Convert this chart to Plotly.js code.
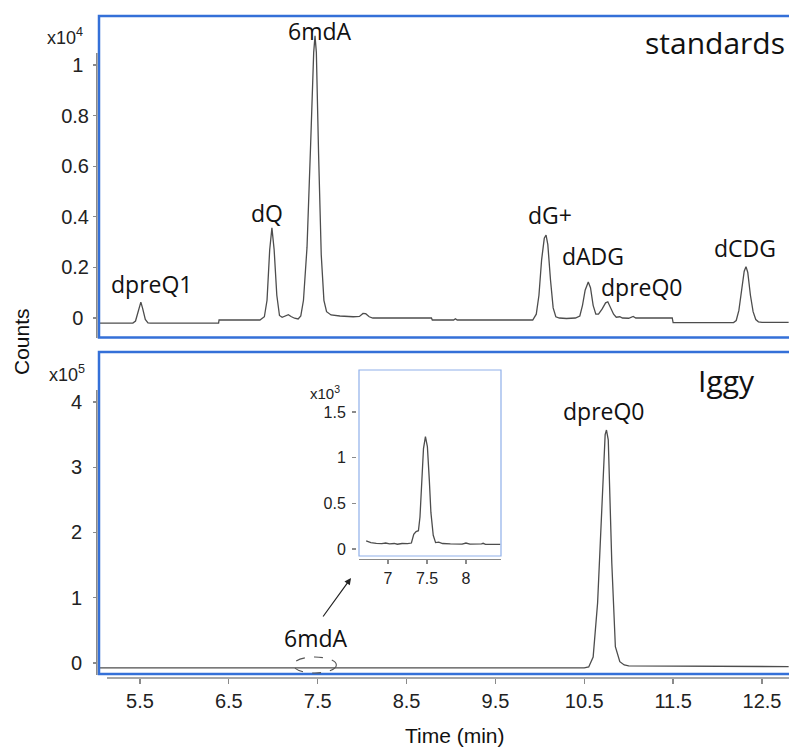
<!DOCTYPE html>
<html>
<head>
<meta charset="utf-8">
<script src="https://cdn.plot.ly/plotly-3.0.1.min.js"></script>
<style>html,body{margin:0;padding:0;background:#fff;overflow:hidden}</style>
</head>
<body>
<div id="chart" style="width:789px;height:747px"></div>
<script>
// ---- standards chromatogram (Counts) ----
const stdTime = [5.04,5.42,5.45,5.48,5.51,5.53,5.56,5.59,5.62,6.385,6.39,6.85,6.90,6.93,6.96,6.985,7.01,7.04,7.07,7.10,7.14,7.17,7.20,7.24,7.28,7.31,7.34,7.38,7.42,7.455,7.47,7.485,7.51,7.54,7.57,7.60,7.65,7.75,7.90,7.97,8.01,8.04,8.08,8.12,8.78,8.79,9.03,9.05,9.07,9.92,9.96,9.99,10.02,10.05,10.07,10.09,10.12,10.15,10.18,10.22,10.30,10.40,10.45,10.48,10.51,10.545,10.57,10.60,10.63,10.66,10.70,10.74,10.765,10.79,10.83,10.86,10.90,10.93,11.00,11.05,11.08,11.49,11.50,12.18,12.21,12.24,12.27,12.30,12.32,12.34,12.37,12.40,12.43,12.46,12.50,12.80];
const stdCounts = [-200,-200,-120,250,630,380,-60,-190,-200,-200,-80,-80,50,700,2700,3560,2700,900,100,30,90,130,60,-10,-40,80,700,2800,6800,10500,11150,10500,6500,2500,700,250,120,80,50,60,180,170,50,0,0,-80,-80,-30,-80,-80,150,900,2300,3150,3280,2900,1500,400,50,0,-20,0,80,500,1100,1420,1200,500,150,150,350,600,640,450,150,30,50,0,-10,60,0,0,-180,-180,-100,300,1100,1850,2030,1800,900,250,-60,-150,-170,-170];

// ---- Iggy chromatogram (Counts) ----
const iggyTime = [5.04,7.40,7.45,7.50,7.55,7.60,10.50,10.55,10.60,10.65,10.70,10.735,10.75,10.77,10.81,10.85,10.90,10.95,11.00,11.40,11.42,12.80];
const iggyCounts = [-7600,-7600,-7100,-6600,-7300,-7600,-7600,-6000,9000,92000,255000,350000,357000,342000,153000,25000,2000,-3000,-4500,-4500,-5500,-5500];

// ---- inset: Iggy 6mdA region (Counts) ----
const insetTime = [6.72,6.78,6.85,6.92,6.97,7.02,7.08,7.12,7.18,7.25,7.30,7.33,7.36,7.39,7.41,7.43,7.455,7.48,7.505,7.53,7.55,7.58,7.61,7.65,7.70,7.80,7.95,8.00,8.05,8.20,8.22,8.25,8.44];
const insetCounts = [88,70,62,58,65,55,60,52,60,58,65,160,190,200,350,700,1100,1230,1120,750,400,150,70,75,60,55,52,65,52,55,62,50,50];

// ---- tick labels ----
const xTicks = [5.5,6.5,7.5,8.5,9.5,10.5,11.5,12.5];
const xTickText = ['5.5','6.5','7.5','8.5','9.5','10.5','11.5','12.5'];
const stdYTicks = [0,2000,4000,6000,8000,10000];
const stdYText = ['0\u00a0','0.2','0.4','0.6','0.8','1\u00a0'];
const iggyYTicks = [0,100000,200000,300000,400000];
const iggyYText = ['0','1','2','3','4'];
const insetXTicks = [7,7.5,8];
const insetXText = ['7','7.5','8'];
const insetYTicks = [0,500,1000,1500];
const insetYText = ['0','0.5','1','1.5'];

// ---- peak labels ----
const stdPeakNames = ['dpreQ1','dQ','6mdA','dG+','dADG','dpreQ0','dCDG'];
const iggyPeakNames = ['dpreQ0','6mdA'];

const W = 789, H = 747;
const px = v => v / W;
const py = v => 1 - v / H;
const BLUE = '#3470d8';
const GREY = '#8a8a8a';
const TRACE = '#4d4d4d';
const tickFont = {family: 'Liberation Sans, Arial, sans-serif', size: 20, color: '#222'};
const labFont = {family: 'Open Sans, sans-serif', size: 23, color: '#111'};
const insetTickFont = {family: 'Liberation Sans, Arial, sans-serif', size: 16, color: '#222'};

const traces = [
  {x: stdTime, y: stdCounts, xaxis: 'x2', yaxis: 'y2', mode: 'lines', line: {color: TRACE, width: 1.3}, hoverinfo: 'skip'},
  {x: iggyTime, y: iggyCounts, xaxis: 'x', yaxis: 'y', mode: 'lines', line: {color: TRACE, width: 1.3}, hoverinfo: 'skip'},
  {x: insetTime, y: insetCounts, xaxis: 'x3', yaxis: 'y3', mode: 'lines', line: {color: TRACE, width: 1.3}, hoverinfo: 'skip'}
];

const common = {showgrid: false, zeroline: false, showline: false, fixedrange: true};

const layout = {
  width: W, height: H,
  margin: {l: 0, r: 0, t: 0, b: 0},
  paper_bgcolor: '#fff', plot_bgcolor: 'rgba(0,0,0,0)',
  showlegend: false,
  xaxis: Object.assign({}, common, {
    domain: [px(99), 1], range: [5.039, 12.804], anchor: 'free', position: py(678),
    tickmode: 'array', tickvals: xTicks, ticktext: xTickText,
    ticks: 'outside', ticklen: 5, tickcolor: GREY, tickwidth: 1.3, tickfont: tickFont
  }),
  yaxis: Object.assign({}, common, {
    domain: [py(674), py(352)], range: [-16860, 476600], anchor: 'free', position: px(97),
    tickmode: 'array', tickvals: iggyYTicks, ticktext: iggyYText,
    ticks: 'outside', ticklen: 4, tickcolor: GREY, tickwidth: 1.3, tickfont: tickFont,
    ticklabelstandoff: 7
  }),
  xaxis2: Object.assign({}, common, {
    domain: [px(99), 1], range: [5.039, 12.804], anchor: 'y2', visible: false
  }),
  yaxis2: Object.assign({}, common, {
    domain: [py(337), py(16)], range: [-751, 11937], anchor: 'free', position: px(97),
    tickmode: 'array', tickvals: stdYTicks, ticktext: stdYText,
    ticks: 'outside', ticklen: 4, tickcolor: GREY, tickwidth: 1.3, tickfont: tickFont
  }),
  xaxis3: Object.assign({}, common, {
    domain: [px(359), px(501)], range: [6.628, 8.449], anchor: 'free', position: py(559),
    showline: true, linecolor: GREY, linewidth: 1.3,
    tickmode: 'array', tickvals: insetXTicks, ticktext: insetXText,
    ticks: 'outside', ticklen: 4, tickcolor: GREY, tickwidth: 1.3, tickfont: insetTickFont
  }),
  yaxis3: Object.assign({}, common, {
    domain: [py(556), py(370)], range: [-77, 1960], anchor: 'free', position: px(356),
    tickmode: 'array', tickvals: insetYTicks, ticktext: insetYText,
    ticks: 'outside', ticklen: 4, tickcolor: GREY, tickwidth: 1.3, tickfont: insetTickFont,
    ticklabelstandoff: 3
  }),
  shapes: [
    // panel frames
    {type: 'rect', xref: 'paper', yref: 'paper', x0: px(99), x1: 1.05, y0: py(337.5), y1: py(16), line: {color: BLUE, width: 2.5}},
    {type: 'rect', xref: 'paper', yref: 'paper', x0: px(99), x1: 1.05, y0: py(674), y1: py(352), line: {color: BLUE, width: 2.5}},
    // grey axis lines
    {type: 'line', xref: 'paper', yref: 'paper', x0: px(96.8), x1: px(96.8), y0: py(53), y1: py(338), line: {color: GREY, width: 1.6}},
    {type: 'line', xref: 'paper', yref: 'paper', x0: px(96.8), x1: px(96.8), y0: py(390), y1: py(675), line: {color: GREY, width: 1.6}},
    {type: 'line', xref: 'paper', yref: 'paper', x0: px(107), x1: 1.02, y0: py(678), y1: py(678), line: {color: GREY, width: 1.6}},
    // inset frame
    {type: 'rect', xref: 'paper', yref: 'paper', x0: px(359), x1: px(501), y0: py(556), y1: py(370), line: {color: '#8fb0ea', width: 1.2}},
    // dashed ellipse around 6mdA
    {type: 'circle', xref: 'x', yref: 'paper', x0: 7.225, x1: 7.71, y0: py(673), y1: py(657), line: {color: '#555', width: 1.1, dash: 'dash'}}
  ],
  annotations: [
    {text: 'x10<sup>4</sup>', xref: 'paper', yref: 'paper', x: px(65), y: py(36), showarrow: false, xanchor: 'center', yanchor: 'middle', font: {family: 'Liberation Sans, Arial, sans-serif', size: 18, color: '#222'}},
    {text: 'x10<sup>5</sup>', xref: 'paper', yref: 'paper', x: px(67), y: py(373), showarrow: false, xanchor: 'center', yanchor: 'middle', font: {family: 'Liberation Sans, Arial, sans-serif', size: 18, color: '#222'}},
    {text: 'x10<sup>3</sup>', xref: 'paper', yref: 'paper', x: px(325), y: py(392), showarrow: false, xanchor: 'center', yanchor: 'middle', font: {family: 'Liberation Sans, Arial, sans-serif', size: 15, color: '#222'}},
    {text: 'Counts', xref: 'paper', yref: 'paper', x: px(22), y: py(342), textangle: -90, showarrow: false, xanchor: 'center', yanchor: 'middle', font: {family: 'Liberation Sans, Arial, sans-serif', size: 21, color: '#111'}},
    {text: 'Time (min)', xref: 'paper', yref: 'paper', x: px(455), y: py(735), showarrow: false, xanchor: 'center', yanchor: 'middle', font: {family: 'Liberation Sans, Arial, sans-serif', size: 21, color: '#111'}},
    {text: 'standards', xref: 'paper', yref: 'paper', x: px(715), y: py(42), showarrow: false, xanchor: 'center', yanchor: 'middle', font: {family: 'Open Sans, sans-serif', size: 30, color: '#111'}},
    {text: 'Iggy', xref: 'paper', yref: 'paper', x: px(726), y: py(380), showarrow: false, xanchor: 'center', yanchor: 'middle', font: {family: 'Open Sans, sans-serif', size: 30, color: '#111'}},
    // standards peak labels
    {text: stdPeakNames[0], xref: 'paper', yref: 'paper', x: px(152), y: py(284), showarrow: false, xanchor: 'center', yanchor: 'middle', font: labFont},
    {text: stdPeakNames[1], xref: 'paper', yref: 'paper', x: px(267), y: py(213), showarrow: false, xanchor: 'center', yanchor: 'middle', font: labFont},
    {text: stdPeakNames[2], xref: 'paper', yref: 'paper', x: px(320), y: py(31), showarrow: false, xanchor: 'center', yanchor: 'middle', font: labFont},
    {text: stdPeakNames[3], xref: 'paper', yref: 'paper', x: px(550), y: py(215), showarrow: false, xanchor: 'center', yanchor: 'middle', font: labFont},
    {text: stdPeakNames[4], xref: 'paper', yref: 'paper', x: px(593), y: py(256), showarrow: false, xanchor: 'center', yanchor: 'middle', font: labFont},
    {text: stdPeakNames[5], xref: 'paper', yref: 'paper', x: px(642), y: py(287), showarrow: false, xanchor: 'center', yanchor: 'middle', font: labFont},
    {text: stdPeakNames[6], xref: 'paper', yref: 'paper', x: px(745), y: py(248), showarrow: false, xanchor: 'center', yanchor: 'middle', font: labFont},
    // Iggy labels
    {text: iggyPeakNames[0], xref: 'paper', yref: 'paper', x: px(604), y: py(411), showarrow: false, xanchor: 'center', yanchor: 'middle', font: labFont},
    {text: iggyPeakNames[1], xref: 'paper', yref: 'paper', x: px(316), y: py(638), showarrow: false, xanchor: 'center', yanchor: 'middle', font: labFont},
    // arrow to inset
    {text: '', xref: 'paper', yref: 'paper', x: px(351), y: py(578), ax: -29, ay: 40, showarrow: true, arrowhead: 2, arrowsize: 1.1, arrowwidth: 1.2, arrowcolor: '#222'}
  ]
};

Plotly.newPlot('chart', traces, layout, {staticPlot: true, displayModeBar: false});
</script>
</body>
</html>
